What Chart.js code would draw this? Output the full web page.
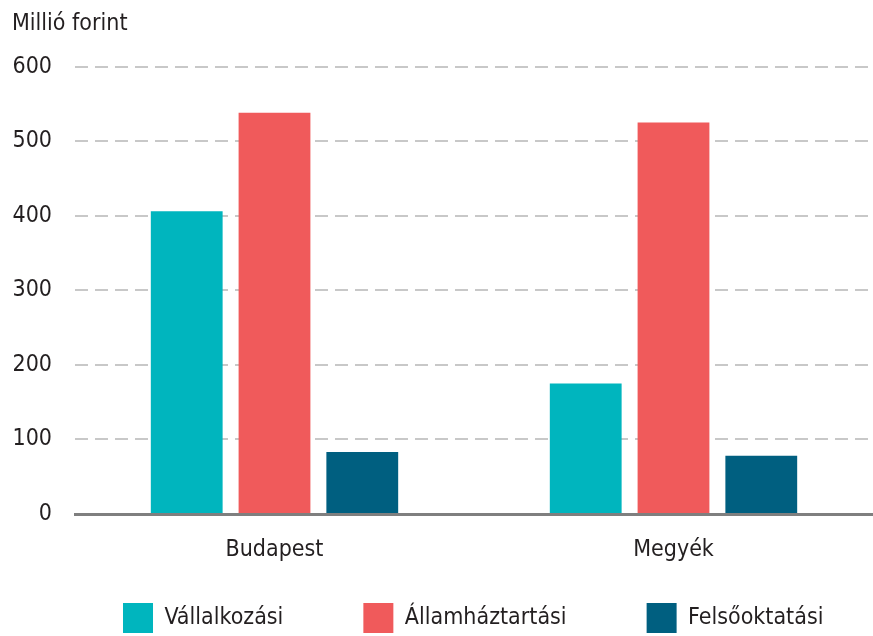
<!DOCTYPE html>
<html>
<head>
<meta charset="utf-8">
<script src="https://cdn.jsdelivr.net/npm/chart.js"></script>
<style>
  html, body { margin: 0; padding: 0; background: #fff; }
  #wrap { width: 873px; height: 636px; position: relative; }
</style>
</head>
<body>
<div id="wrap"><canvas id="chart"></canvas></div>
<script>
// Data
const categories = ['Budapest', 'Megyék'];
const seriesNames = ['Vállalkozási', 'Államháztartási', 'Felsőoktatási'];
const vallalkozasi = [406, 175];
const allamhaztartasi = [538, 525];
const felsooktatasi = [83, 78];
const yTicks = [0, 100, 200, 300, 400, 500, 600];

const colors = ['#00b5be', '#f05a5b', '#005f80'];
const FONT = "'DejaVu Sans Condensed', 'Liberation Sans Narrow', sans-serif";
const TEXT = '#231f20';

// legend: wide gaps between items, placed by hand under the plot
const LEGEND_H = 70;
const LEGEND_BOX_TOP = 603;
const LEGEND_BOX_LEFT = 123;

const legendTweak = {
    id: 'legendTweak',
    beforeLayout(chart) {
        const legend = chart.legend;
        if (legend && !legend._tweaked) {
            const fit = legend.fit;
            legend.fit = function () {
                fit.call(this);
                this.height = LEGEND_H;
            };
            legend._tweaked = true;
        }
    },
    afterLayout(chart) {
        const legend = chart.legend;
        const pad = legend.options.labels.padding;
        legend.top = LEGEND_BOX_TOP - pad;
        legend.bottom = chart.height;
        legend.left = LEGEND_BOX_LEFT - pad;
        legend.right = chart.width + 400; // keep all items on one row
    }
};

const ctx = document.getElementById('chart');

new Chart(ctx, {
    type: 'bar',
    data: {
        labels: categories,
        datasets: [vallalkozasi, allamhaztartasi, felsooktatasi].map((d, i) => ({
            label: seriesNames[i],
            data: d,
            backgroundColor: colors[i],
            borderWidth: 0,
            categoryPercentage: 0.66,
            barPercentage: 0.818
        }))
    },
    options: {
        responsive: true,
        maintainAspectRatio: false,
        animation: false,
        layout: { padding: { left: 12, right: 0, top: 10, bottom: 0 } },
        scales: {
            y: {
                min: 0,
                max: 600,
                afterBuildTicks: axis => { axis.ticks = yTicks.map(v => ({ value: v })); },
                afterFit: axis => { axis.width = 63; },
                border: { display: false, dash: [13, 7] },
                grid: {
                    color: c => c.tick.value === 0 ? 'rgba(0,0,0,0)' : '#c8c8c8',
                    lineWidth: 2,
                    drawTicks: false
                },
                ticks: {
                    color: TEXT,
                    padding: 23,
                    font: { family: FONT, size: 23 }
                }
            },
            x: {
                afterFit: axis => { axis.height = 52; },
                border: { display: true, color: '#7f7f7f', width: 3 },
                grid: { display: false },
                ticks: {
                    color: TEXT,
                    padding: 14,
                    font: { family: FONT, size: 23 }
                }
            }
        },
        plugins: {
            title: {
                display: true,
                text: 'Millió forint',
                align: 'start',
                color: TEXT,
                font: { family: FONT, size: 23, weight: 'normal' },
                padding: { top: 0, bottom: 29 }
            },
            legend: {
                position: 'bottom',
                align: 'start',
                labels: {
                    color: TEXT,
                    boxWidth: 30,
                    boxHeight: 30,
                    padding: 80,
                    font: { family: FONT, size: 23 }
                }
            },
            tooltip: { enabled: false }
        }
    },
    plugins: [legendTweak]
});
</script>
</body>
</html>
